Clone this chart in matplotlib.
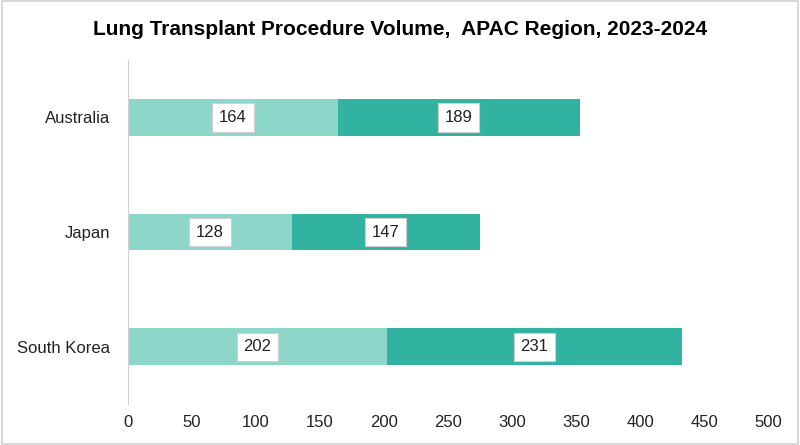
import matplotlib
matplotlib.use("Agg")
import matplotlib.pyplot as plt
from matplotlib.patches import Rectangle

countries = ["Australia", "Japan", "South Korea"]
vol_2023 = [164, 128, 202]
vol_2024 = [189, 147, 231]
xticks = [0, 50, 100, 150, 200, 250, 300, 350, 400, 450, 500]

c_light = "#8dd7ca"
c_dark = "#32b3a1"

plt.rcParams['font.family'] = ['Liberation Sans', 'DejaVu Sans']

fig = plt.figure(figsize=(8, 4.45), dpi=100)
ax = fig.add_axes([0.16, 0.092, 0.8, 0.773])

ypos = list(range(len(countries)))
bars1 = ax.barh(ypos, vol_2023, height=0.32, color=c_light)
bars2 = ax.barh(ypos, vol_2024, left=vol_2023, height=0.32, color=c_dark)

box = dict(boxstyle="square,pad=0.4", facecolor="white", edgecolor="#d0d0d0", linewidth=0.8)
for bars, lefts, vals in [(bars1, [0, 0, 0], vol_2023), (bars2, vol_2023, vol_2024)]:
    for y, l, v in zip(ypos, lefts, vals):
        ax.text(l + v / 2, y, str(v), ha="center", va="center", fontsize=12,
                color="#222222", bbox=box)

ax.set_xlim(0, 500)
ax.set_ylim(2.5, -0.5)
ax.set_xticks(xticks)
ax.set_yticks(ypos)
ax.set_yticklabels(countries)
ax.tick_params(axis="both", length=0, labelsize=12, colors="#222222")
ax.tick_params(axis="x", pad=8)
ax.tick_params(axis="y", pad=13)
for s in ["top", "right", "bottom"]:
    ax.spines[s].set_visible(False)
ax.spines["left"].set_color("#d0d0d0")

fig.text(0.5, 0.933, "Lung Transplant Procedure Volume,  APAC Region, 2023-2024",
         ha="center", va="center", fontsize=15, fontweight="bold")

fig.patches.append(Rectangle((0.002, 0.003), 0.996, 0.994, transform=fig.transFigure,
                             fill=False, edgecolor="#d0d0d0", linewidth=1.2))

fig.savefig("out.png", dpi=100)
